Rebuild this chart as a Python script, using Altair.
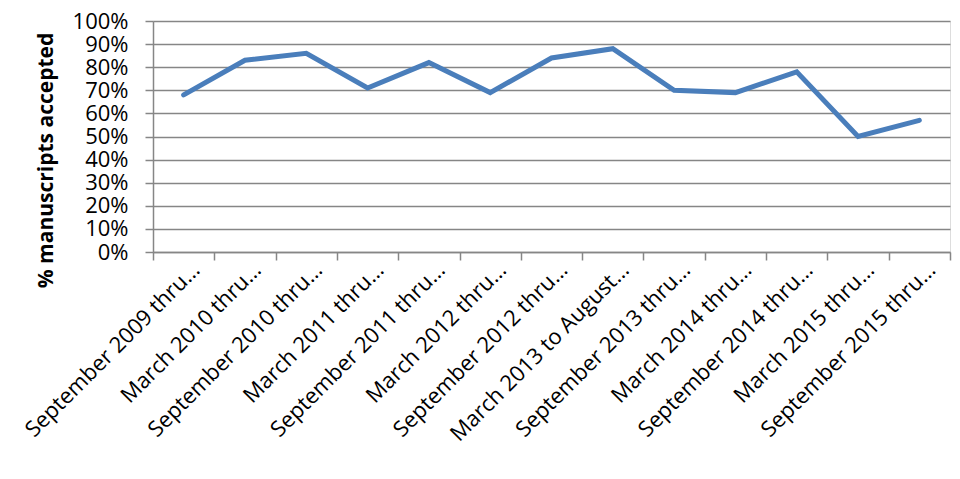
import altair as alt
import pandas as pd

periods = [
    "September 2009 thru…",
    "March 2010 thru…",
    "September 2010 thru…",
    "March 2011 thru…",
    "September 2011 thru…",
    "March 2012 thru…",
    "September 2012 thru…",
    "March 2013 to August…",
    "September 2013 thru…",
    "March 2014 thru…",
    "September 2014 thru…",
    "March 2015 thru…",
    "September 2015 thru…",
]
accepted_pct = [68, 83, 86, 71, 82, 69, 84, 88, 70, 69, 78, 50, 57]
y_ticks = [0, 10, 20, 30, 40, 50, 60, 70, 80, 90, 100]

df = pd.DataFrame({"period": periods, "pct": accepted_pct})

FONT = "Open Sans"
GRID = "#868686"

chart = (
    alt.Chart(df)
    .mark_line(color="#4A7EBB", strokeWidth=5, strokeJoin="miter", strokeCap="round")
    .encode(
        x=alt.X(
            "period:N",
            sort=periods,
            scale=alt.Scale(type="band", paddingInner=0, paddingOuter=0),
            axis=alt.Axis(
                title=None,
                labelAngle=-45,
                labelAlign="right",
                labelBaseline="middle",
                labelOffset=12,
                labelPadding=6,
                labelFont=FONT,
                labelFontSize=22,
                labelColor="#000000",
                labelLimit=400,
                tickBand="extent",
                tickSize=8,
                tickColor=GRID,
                tickWidth=1.5,
                domainColor=GRID,
                domainWidth=1.5,
                grid=False,
            ),
        ),
        y=alt.Y(
            "pct:Q",
            scale=alt.Scale(domain=[0, 100], nice=False, zero=True),
            axis=alt.Axis(
                title="% manuscripts accepted",
                titleFont=FONT,
                titleFontSize=21,
                titleFontWeight="bold",
                titleColor="#000000",
                titleAngle=-90,
                titleAlign="center",
                titleBaseline="middle",
                titleX=-107,
                titleY=139,
                values=y_ticks,
                labelExpr="datum.value + '%'",
                labelFont=FONT,
                labelFontSize=22,
                labelColor="#000000",
                labelPadding=17,
                tickSize=8,
                tickColor=GRID,
                tickWidth=1.5,
                domainColor=GRID,
                domainWidth=1.5,
                grid=True,
                gridColor=GRID,
                gridWidth=1.5,
            ),
        ),
    )
    .properties(
        width=797,
        height=231,
        autosize=alt.AutoSizeParams(type="none"),
        padding={"left": 145, "top": 13, "right": 2, "bottom": 219},
    )
    .configure_view(stroke=None)
    .configure(background="#ffffff")
)

chart.save("out.html", embed_options={"renderer": "svg", "actions": False})
